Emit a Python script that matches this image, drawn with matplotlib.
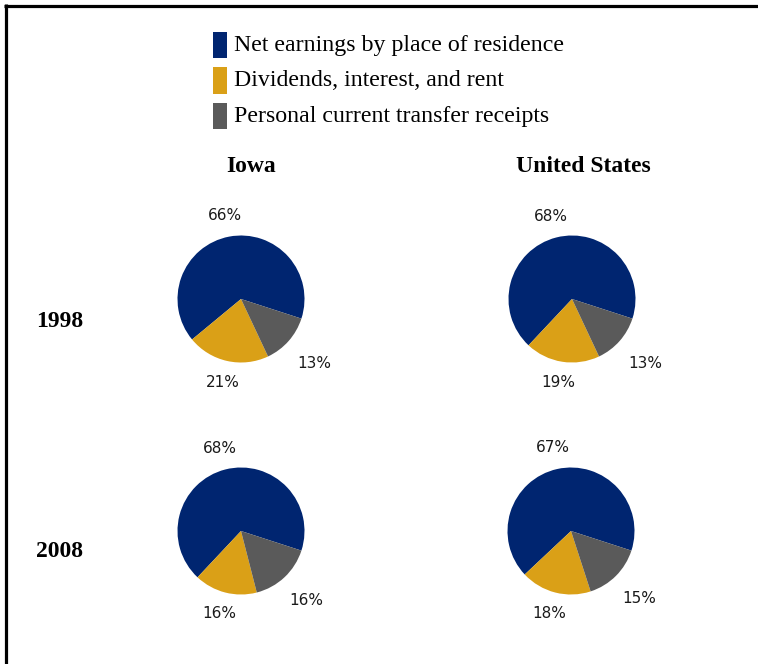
import numpy as np
import matplotlib
matplotlib.use("Agg")
import matplotlib.pyplot as plt
from matplotlib.lines import Line2D
from matplotlib.patches import Rectangle

# ---- data ----
categories = ["Net earnings by place of residence",
              "Dividends, interest, and rent",
              "Personal current transfer receipts"]
regions = ["Iowa", "United States"]
years = ["1998", "2008"]
iowa_1998 = [66, 21, 13]
us_1998 = [68, 19, 13]
iowa_2008 = [68, 16, 16]
us_2008 = [67, 18, 15]
colors = ["#002570", "#DAA017", "#5A5A5A"]

W, H = 758, 664
fig = plt.figure(figsize=(W / 100, H / 100), dpi=100)
fig.patch.set_facecolor("white")

SERIF = "Liberation Serif"
SANS = "DejaVu Sans"

def fx(px):
    return px / W

def fy(py):
    return 1 - py / H

# frame (top and left edges visible)
fig.add_artist(Line2D([fx(4), 1.0], [fy(5.5), fy(5.5)], color="black", lw=2.3,
                      transform=fig.transFigure, solid_capstyle="butt"))
fig.add_artist(Line2D([fx(5.5), fx(5.5)], [fy(4), 0.0], color="black", lw=2.3,
                      transform=fig.transFigure, solid_capstyle="butt"))

# legend
leg_tops = [32, 67.5, 103]
for cat, col, top in zip(categories, colors, leg_tops):
    fig.add_artist(Rectangle((fx(213), fy(top + 26)), 14 / W, 26 / H,
                             transform=fig.transFigure, facecolor=col,
                             edgecolor="none"))
    fig.text(fx(234), fy(top + 19), cat, fontsize=17.2, family=SERIF,
             va="baseline", ha="left")

# column headers and row labels
fig.text(fx(251.5), fy(172), regions[0], fontsize=17, family=SERIF,
         weight="bold", ha="center", va="baseline")
fig.text(fx(583), fy(172), regions[1], fontsize=17, family=SERIF,
         weight="bold", ha="center", va="baseline")
fig.text(fx(59.5), fy(327), years[0], fontsize=17, family=SERIF,
         weight="bold", ha="center", va="baseline")
fig.text(fx(59.5), fy(557), years[1], fontsize=17, family=SERIF,
         weight="bold", ha="center", va="baseline")

R = 63.5  # pie radius in px
AW, AH = 260, 220  # axes size in px
ELL_A, ELL_B = 1.79, 1.33  # label ellipse semi-axes (in radii)

def draw_pie(cx, cy, values):
    ax = fig.add_axes([fx(cx - AW / 2), fy(cy + AH / 2), AW / W, AH / H])
    ax.axis("off")
    wedges, _, autotexts = ax.pie(values, colors=colors, startangle=-18,
                                  counterclock=True, radius=1.0,
                                  autopct=lambda p: f"{p:.0f}%",
                                  pctdistance=1.35,
                                  wedgeprops=dict(linewidth=0),
                                  textprops=dict(fontsize=11, family=SANS,
                                                 color="#1a1a1a"),
                                  frame=False)
    ax.set_xlim(-AW / 2 / R, AW / 2 / R)
    ax.set_ylim(-AH / 2 / R, AH / 2 / R)
    ax.set_aspect("auto")
    for w, t in zip(wedges, autotexts):
        mid = np.deg2rad((w.theta1 + w.theta2) / 2)
        c, s = np.cos(mid), np.sin(mid)
        d = 1 / np.sqrt((c / ELL_A) ** 2 + (s / ELL_B) ** 2)
        t.set_position((d * c, d * s))
        t.set_ha("center")
        t.set_va("center")
    return ax

draw_pie(241, 299, iowa_1998)
draw_pie(572, 299, us_1998)
draw_pie(241, 531, iowa_2008)
draw_pie(571, 531, us_2008)

fig.savefig("out.png", dpi=100, facecolor="white")
